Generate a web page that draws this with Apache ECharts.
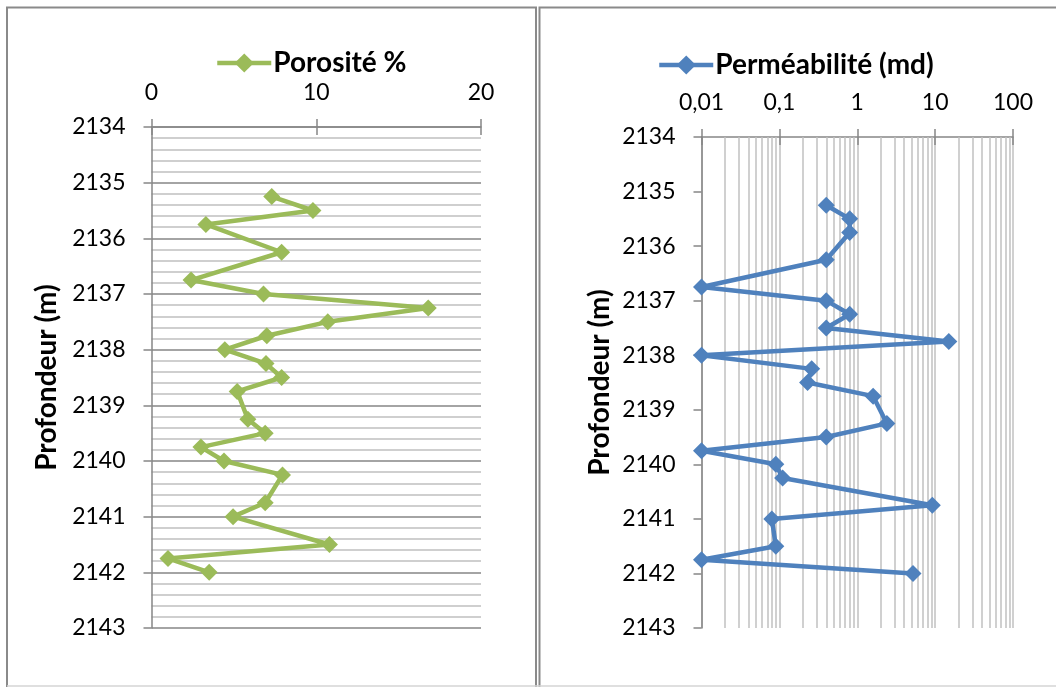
<!DOCTYPE html>
<html>
<head>
<meta charset="utf-8">
<script src="https://cdn.jsdelivr.net/npm/echarts@6/dist/echarts.min.js"></script>
<style>
  html, body { margin: 0; padding: 0; background: #ffffff; }
  #chart { width: 1056px; height: 687px; }
</style>
</head>
<body>
<div id="chart"></div>
<script>
// Core samples: depth (m), porosity (%), permeability (md)
const depths = [2135.25, 2135.5, 2135.75, 2136.25, 2136.75, 2137, 2137.25, 2137.5, 2137.75,
  2138, 2138.25, 2138.5, 2138.75, 2139.25, 2139.5, 2139.75, 2140, 2140.25, 2140.75,
  2141, 2141.5, 2141.75, 2142];
const porosity = [7.3, 9.8, 3.3, 7.9, 2.4, 6.8, 16.8, 10.7, 7.0,
  4.45, 6.95, 7.9, 5.2, 5.85, 6.9, 3.0, 4.4, 7.95, 6.9,
  4.95, 10.8, 1.0, 3.5];
const permeability = [0.4, 0.8, 0.8, 0.4, 0.01, 0.4, 0.8, 0.4, 15,
  0.01, 0.26, 0.23, 1.6, 2.4, 0.4, 0.01, 0.09, 0.11, 9.2,
  0.08, 0.09, 0.01, 5.2];

// Axis ranges
const depthRange = [2134, 2143];
const porosityRange = [0, 20];
const permRange = [0.01, 100];
const permDecades = [0.01, 0.1, 1, 10];
const permMultipliers = [2, 3, 4, 5, 6, 7, 8, 9];

const FONT = 'Lato';
const AXIS_COLOR = '#868686';
const MINOR_COLOR = '#c0c0c0';
const GREEN = '#9bbb59';
const BLUE = '#4f81bd';

const poroData = depths.map((d, i) => [porosity[i], d]);
const permData = depths.map((d, i) => [permeability[i], d]);

// Intermediate log lines (2..9 within each decade)
const permMinorLines = [];
permDecades.forEach(dec => permMultipliers.forEach(m => {
  permMinorLines.push({ xAxis: +(dec * m).toPrecision(6) });
}));

const tickLabel = { fontFamily: FONT, fontSize: 23, color: '#000000' };
const titleFont = { fontFamily: FONT, fontSize: 28, fontWeight: 'bold', color: '#000000' };

function depthAxis(gridIndex, withMinor) {
  return {
    type: 'value', gridIndex, inverse: true,
    min: depthRange[0], max: depthRange[1], interval: 1,
    axisLine: { show: true, lineStyle: { color: AXIS_COLOR, width: 1.5 } },
    axisTick: { show: true, inside: false, length: 8, lineStyle: { color: AXIS_COLOR, width: 1.5 } },
    axisLabel: Object.assign({ margin: 26, formatter: v => String(v) }, tickLabel),
    splitLine: { show: withMinor, lineStyle: { color: AXIS_COLOR, width: 1.5 } },
    minorTick: { show: false, splitNumber: 5 },
    minorSplitLine: { show: withMinor, lineStyle: { color: MINOR_COLOR, width: 1.5 } },
    name: 'Profondeur (m)', nameLocation: 'middle', nameGap: withMinor ? 91 : 88,
    nameTextStyle: titleFont
  };
}

function legendBlock(left, top, name) {
  return {
    left, top, padding: 0, itemWidth: 54, itemHeight: 24, itemGap: 0,
    data: [name],
    lineStyle: { width: 4.5 },
    textStyle: Object.assign({ padding: [0, 0, 0, -3] }, titleFont)
  };
}

const option = {
  animation: false,
  backgroundColor: '#ffffff',
  graphic: [
    // panel frames
    { type: 'polyline', shape: { points: [[7, 690], [7, 7.5], [536, 7.5], [536, 690]] },
      style: { stroke: '#8a8a8a', lineWidth: 2, fill: null }, silent: true },
    { type: 'polyline', shape: { points: [[539.5, 690], [539.5, 7.5], [1060, 7.5]] },
      style: { stroke: '#8a8a8a', lineWidth: 2, fill: null }, silent: true },
    { type: 'line', shape: { x1: 7, y1: 686, x2: 1056, y2: 686 },
      style: { stroke: '#d4d4d4', lineWidth: 1.5 }, silent: true }
  ],
  legend: [
    legendBlock(215, 49, 'Porosité %'),
    legendBlock(657, 51, 'Perméabilité (md)')
  ],
  grid: [
    { left: 151.5, top: 127, width: 329.5, height: 501 },
    { left: 701.5, top: 137, width: 311.5, height: 491 }
  ],
  xAxis: [
    {
      type: 'value', gridIndex: 0, position: 'top',
      min: porosityRange[0], max: porosityRange[1], interval: 10,
      axisLine: { show: true, lineStyle: { color: AXIS_COLOR, width: 1.5 } },
      axisTick: { show: true, inside: false, length: 8, lineStyle: { color: AXIS_COLOR, width: 1.5 } },
      axisLabel: Object.assign({ margin: 23 }, tickLabel),
      splitLine: { show: false }
    },
    {
      type: 'value', gridIndex: 0, position: 'top',
      min: porosityRange[0], max: porosityRange[1], interval: 10,
      axisLine: { show: false },
      axisTick: { show: true, inside: true, length: 8, lineStyle: { color: AXIS_COLOR, width: 1.5 } },
      axisLabel: { show: false },
      splitLine: { show: false }
    },
    {
      type: 'log', logBase: 10, gridIndex: 1, position: 'top',
      min: permRange[0], max: permRange[1],
      axisLine: { show: true, lineStyle: { color: AXIS_COLOR, width: 1.5 } },
      axisTick: { show: true, inside: false, length: 8, lineStyle: { color: AXIS_COLOR, width: 1.5 } },
      axisLabel: Object.assign({
        margin: 23,
        formatter: v => String(+(+v).toPrecision(6)).replace('.', ',')
      }, tickLabel),
      splitLine: { show: true, lineStyle: { color: MINOR_COLOR, width: 1.5 } }
    },
    {
      type: 'log', logBase: 10, gridIndex: 1, position: 'top',
      min: permRange[0], max: permRange[1],
      axisLine: { show: false },
      axisTick: { show: true, inside: true, length: 8, lineStyle: { color: AXIS_COLOR, width: 1.5 } },
      axisLabel: { show: false },
      splitLine: { show: false }
    }
  ],
  yAxis: [
    depthAxis(0, true),
    depthAxis(1, false)
  ],
  series: [
    {
      name: 'Porosité %', type: 'line', xAxisIndex: 0, yAxisIndex: 0,
      data: poroData,
      symbol: 'diamond', symbolSize: 17,
      lineStyle: { color: GREEN, width: 4.5 },
      itemStyle: { color: GREEN },
      z: 3
    },
    {
      name: 'Perméabilité (md)', type: 'line', xAxisIndex: 2, yAxisIndex: 1,
      data: permData,
      symbol: 'diamond', symbolSize: 17,
      lineStyle: { color: BLUE, width: 4.5 },
      itemStyle: { color: BLUE },
      z: 3,
      markLine: {
        silent: true, z: 1, symbol: ['none', 'none'],
        label: { show: false },
        lineStyle: { type: 'solid', color: MINOR_COLOR, width: 1.5 },
        emphasis: { disabled: true },
        data: permMinorLines
      }
    }
  ]
};

const chart = echarts.init(document.getElementById('chart'), null, { renderer: 'canvas' });
chart.setOption(option);
</script>
</body>
</html>
